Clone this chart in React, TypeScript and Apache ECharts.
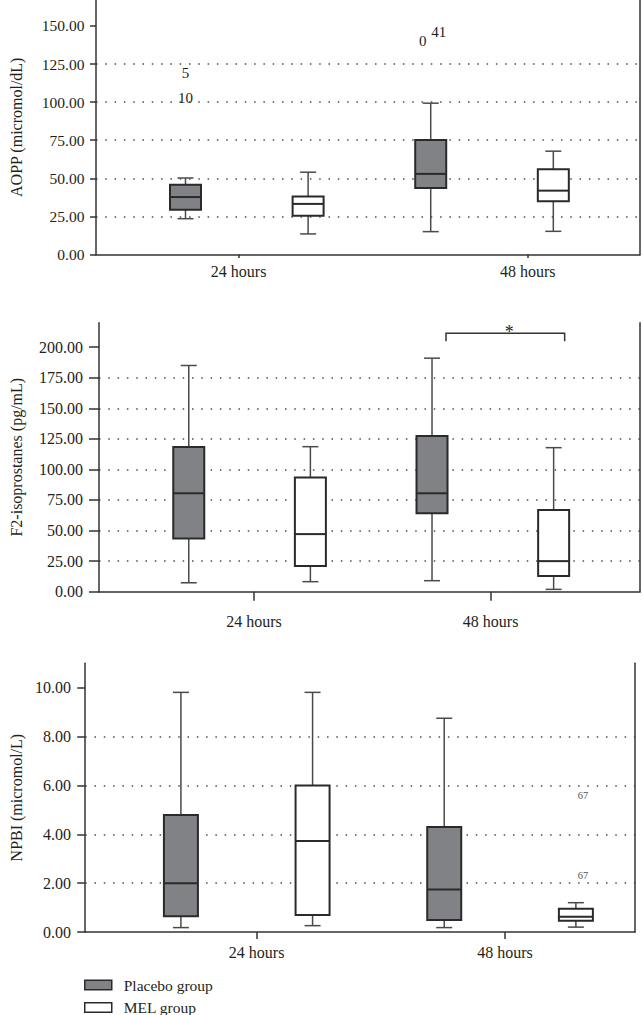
import React, { useEffect, useRef } from 'react';
import * as echarts from 'echarts';

// ---------------- data ----------------
const timepoints = ['24 hours', '48 hours'];
const groupNames = ['Placebo group', 'MEL group'];

// box statistics per time point: [lower whisker, Q1, median, Q3, upper whisker]
const aoppPlacebo = [[23.5, 29.4, 37.7, 45.8, 50.2], [15.0, 43.6, 52.9, 75.2, 99.3]];
const aoppMel = [[13.5, 25.4, 33.2, 38.1, 54.0], [15.2, 34.9, 41.9, 55.9, 67.8]];
const aoppOutliers = [
  { time: 0, group: 0, value: 119, label: '5' },
  { time: 0, group: 0, value: 102.5, label: '10' },
  { time: 1, group: 0, value: 140.4, label: '0' },
  { time: 1, group: 0, value: 146, label: '41' },
];

const f2Placebo = [[7.3, 43.5, 80.5, 118.4, 185.0], [9.0, 64.2, 80.5, 127.3, 191.0]];
const f2Mel = [[8.2, 21.0, 47.1, 93.3, 118.6], [1.9, 12.8, 25.0, 66.9, 117.8]];
const f2Significance = [{ time: 1, value: 211.4, label: '*' }];

const npbiPlacebo = [[0.18, 0.64, 2.0, 4.79, 9.81], [0.18, 0.49, 1.74, 4.3, 8.75]];
const npbiMel = [[0.26, 0.7, 3.73, 6.0, 9.81], [0.2, 0.46, 0.62, 0.95, 1.2]];
const npbiOutliers = [
  { time: 1, group: 1, value: 5.6, label: '67' },
  { time: 1, group: 1, value: 2.33, label: '67' },
];

const aoppAxis = { max: 167, interval: 25, labels: [0, 25, 50, 75, 100, 125, 150] };
const f2Axis = { max: 220, interval: 25, labels: [0, 25, 50, 75, 100, 125, 150, 175, 200] };
const npbiAxis = { max: 11, interval: 2, labels: [0, 2, 4, 6, 8, 10] };

// ---------------- styles / layout ----------------
const FONT = "'Liberation Serif', 'Times New Roman', serif";
const TEXT = '#231f20';
const AXIS = '#333333';
const PLACEBO_FILL = '#808285';
const MEL_FILL = '#ffffff';
const BOX_STROKE = '#2a2a2a';
const WHISKER = '#4a4a4a';

const panels = [
  {
    title: 'AOPP (micromol/dL)', placebo: aoppPlacebo, mel: aoppMel, outliers: aoppOutliers,
    outlierOffsets: [0, 0, -8, 8], outlierFont: 15, outlierColor: TEXT, signif: [],
    axis: aoppAxis,
    grid: { left: 93.3, top: 0, width: 546.7, height: 254.5 },
    xMin: 0.27, xMax: 4.707, tickPos: [1.433, 3.792],
    xTickLen: 3.5, xLabelMargin: 9, yTickLen: 6, yLabelMargin: 11.6, yFont: 15.5, nameGap: 72,
    boxW: 31, capW: 16,
  },
  {
    title: 'F2-isoprostanes (pg/mL)', placebo: f2Placebo, mel: f2Mel, outliers: [],
    outlierOffsets: [], outlierFont: 15, outlierColor: TEXT, signif: f2Significance,
    axis: f2Axis,
    grid: { left: 93.3, top: 322.7, width: 546.7, height: 269 },
    xMin: 0.262, xMax: 4.71, tickPos: [1.537, 3.482],
    xTickLen: 9, xLabelMargin: 22, yTickLen: 10, yLabelMargin: 16, yFont: 16, nameGap: 75,
    boxW: 31, capW: 16,
  },
  {
    title: 'NPBI (micromol/L)', placebo: npbiPlacebo, mel: npbiMel, outliers: npbiOutliers,
    outlierOffsets: [7, 7], outlierFont: 10.5, outlierColor: '#555555', signif: [],
    axis: npbiAxis,
    grid: { left: 85, top: 663.3, width: 550, height: 268.7 },
    xMin: 0.273, xMax: 4.449, tickPos: [1.575, 3.462],
    xTickLen: 7, xLabelMargin: 12, yTickLen: 8, yLabelMargin: 14.3, yFont: 16, nameGap: 61,
    boxW: 34, capW: 16,
  },
];

const boxPos = (time: number, group: number) => time * 2 + group + 1;

function makeBoxRenderer(fill: string, boxW: number, capW: number) {
  return (params: any, api: any) => {
    const x = api.value(0);
    const lo = api.coord([x, api.value(1)]);
    const q1 = api.coord([x, api.value(2)]);
    const med = api.coord([x, api.value(3)]);
    const q3 = api.coord([x, api.value(4)]);
    const hi = api.coord([x, api.value(5)]);
    const cx = lo[0];
    const wStyle = { stroke: WHISKER, lineWidth: 1.5 };
    return {
      type: 'group',
      children: [
        { type: 'line', shape: { x1: cx, y1: hi[1], x2: cx, y2: q3[1] }, style: wStyle },
        { type: 'line', shape: { x1: cx, y1: q1[1], x2: cx, y2: lo[1] }, style: wStyle },
        { type: 'line', shape: { x1: cx - capW / 2, y1: hi[1], x2: cx + capW / 2, y2: hi[1] }, style: wStyle },
        { type: 'line', shape: { x1: cx - capW / 2, y1: lo[1], x2: cx + capW / 2, y2: lo[1] }, style: wStyle },
        {
          type: 'rect',
          shape: { x: cx - boxW / 2, y: q3[1], width: boxW, height: q1[1] - q3[1] },
          style: { fill, stroke: BOX_STROKE, lineWidth: 2 },
        },
        {
          type: 'line',
          shape: { x1: cx - boxW / 2, y1: med[1], x2: cx + boxW / 2, y2: med[1] },
          style: { stroke: BOX_STROKE, lineWidth: 2 },
        },
      ],
    };
  };
}

function buildOption() {
  const grid: any[] = [];
  const xAxis: any[] = [];
  const yAxis: any[] = [];
  const series: any[] = [];

  panels.forEach((p, i) => {
    grid.push({ ...p.grid, containLabel: false });
    const ticks = p.tickPos;
    xAxis.push({
      type: 'value', gridIndex: i, min: p.xMin, max: p.xMax,
      axisLine: { show: true, onZero: false, lineStyle: { color: AXIS, width: 1.5 } },
      axisTick: { show: true, customValues: ticks, length: p.xTickLen, lineStyle: { color: AXIS, width: 1.5 } },
      axisLabel: {
        show: true, customValues: ticks, margin: p.xLabelMargin,
        fontFamily: FONT, fontSize: 16, color: TEXT,
        formatter: (v: number) => {
          let best = 0;
          ticks.forEach((t, k) => { if (Math.abs(t - v) < Math.abs(ticks[best] - v)) best = k; });
          return timepoints[best];
        },
      },
      splitLine: { show: false },
    });
    yAxis.push({
      type: 'value', gridIndex: i, min: 0, max: p.axis.max, interval: p.axis.interval,
      name: p.title, nameLocation: 'middle', nameRotate: 90, nameGap: p.nameGap,
      nameTextStyle: { fontFamily: FONT, fontSize: 16, color: TEXT },
      axisLine: { show: true, lineStyle: { color: AXIS, width: 1.5 } },
      axisTick: { show: true, customValues: p.axis.labels, length: p.yTickLen, lineStyle: { color: AXIS, width: 1.5 } },
      axisLabel: {
        customValues: p.axis.labels, margin: p.yLabelMargin,
        fontFamily: FONT, fontSize: p.yFont, color: TEXT,
        formatter: (v: number) => v.toFixed(2),
      },
      splitLine: {
        show: true, showMinLine: false, showMaxLine: false,
        lineStyle: { color: '#4d4d4d', width: 1.5, type: [1.5, 7.8] },
      },
    });
    yAxis.push({
      type: 'value', gridIndex: i, min: 0, max: p.axis.max, position: 'right',
      axisLine: { show: true, lineStyle: { color: AXIS, width: 1.5 } },
      axisTick: { show: false }, axisLabel: { show: false }, splitLine: { show: false },
    });

    [p.placebo, p.mel].forEach((stats, g) => {
      series.push({
        type: 'custom', name: groupNames[g], xAxisIndex: i, yAxisIndex: i * 2,
        data: stats.map((s, t) => [boxPos(t, g), ...s]),
        encode: { x: 0, y: [1, 2, 3, 4, 5] },
        renderItem: makeBoxRenderer(g === 0 ? PLACEBO_FILL : MEL_FILL, p.boxW, p.capW),
        itemStyle: { color: g === 0 ? PLACEBO_FILL : MEL_FILL, borderColor: BOX_STROKE },
        silent: true, z: 3,
      });
    });

    if (p.outliers.length) {
      series.push({
        type: 'custom', xAxisIndex: i, yAxisIndex: i * 2, silent: true, z: 4,
        data: p.outliers.map((o, k) => [boxPos(o.time, o.group), o.value, k]),
        encode: { x: 0, y: 1 },
        renderItem: (params: any, api: any) => {
          const k = api.value(2);
          const pt = api.coord([api.value(0), api.value(1)]);
          return {
            type: 'text',
            style: {
              text: p.outliers[k].label, x: pt[0] + (p.outlierOffsets[k] || 0), y: pt[1],
              align: 'center', verticalAlign: 'middle',
              font: `${p.outlierFont}px ${FONT}`, fill: p.outlierColor,
            },
          };
        },
      });
    }

    if (p.signif.length) {
      series.push({
        type: 'custom', xAxisIndex: i, yAxisIndex: i * 2, silent: true, z: 4,
        data: p.signif.map((s, k) => [boxPos(s.time, 0), boxPos(s.time, 1), s.value, k]),
        encode: { x: [0, 1], y: 2 },
        renderItem: (params: any, api: any) => {
          const k = api.value(3);
          const a = api.coord([api.value(0), api.value(2)]);
          const b = api.coord([api.value(1), api.value(2)]);
          const x1 = a[0] + 14;
          const x2 = b[0] + 11;
          const y = a[1];
          return {
            type: 'group',
            children: [
              {
                type: 'polyline',
                shape: { points: [[x1, y + 8], [x1, y], [x2, y], [x2, y + 8]] },
                style: { stroke: AXIS, lineWidth: 1.5, fill: null },
              },
              {
                type: 'text',
                style: {
                  text: p.signif[k].label, x: (x1 + x2) / 2 + 4, y: y - 1,
                  align: 'center', verticalAlign: 'middle',
                  font: `18px ${FONT}`, fill: TEXT,
                },
              },
            ],
          };
        },
      });
    }
  });

  return {
    animation: false,
    backgroundColor: '#ffffff',
    textStyle: { fontFamily: FONT },
    grid, xAxis, yAxis, series,
    legend: {
      orient: 'vertical', left: 84, top: 977, height: 45, padding: 0,
      itemWidth: 27, itemHeight: 9.5, itemGap: 6.5,
      icon: 'rect', selectedMode: false,
      textStyle: { fontFamily: FONT, fontSize: 15.5, color: TEXT, padding: [0, 0, 0, 7] },
      data: [
        { name: groupNames[0], itemStyle: { color: PLACEBO_FILL, borderColor: BOX_STROKE, borderWidth: 1.5 } },
        { name: groupNames[1], itemStyle: { color: MEL_FILL, borderColor: BOX_STROKE, borderWidth: 1.5 } },
      ],
    },
  };
}

export default function App() {
  const ref = useRef<HTMLDivElement>(null);
  useEffect(() => {
    if (!ref.current) return;
    const chart = echarts.init(ref.current, undefined, { renderer: 'svg' });
    chart.setOption(buildOption() as any);
    return () => chart.dispose();
  }, []);
  return (
    <div
      ref={ref}
      style={{ position: 'absolute', left: 0, top: 0, width: 643, height: 1015, background: '#fff' }}
    />
  );
}
